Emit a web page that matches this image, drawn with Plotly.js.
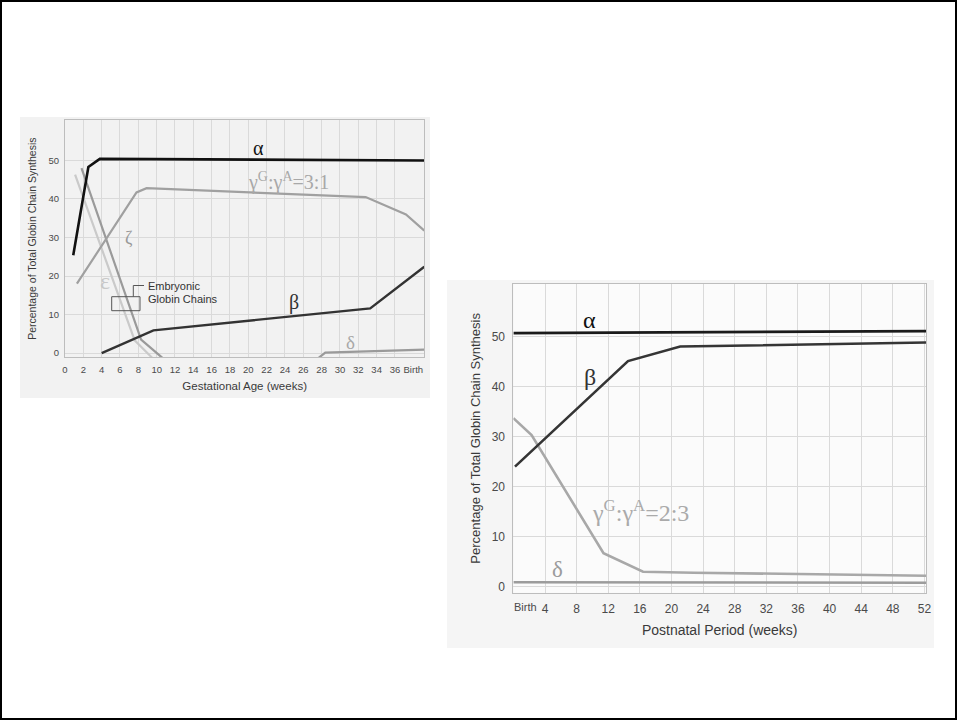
<!DOCTYPE html>
<html>
<head>
<meta charset="utf-8">
<script src="https://cdn.plot.ly/plotly-3.0.1.min.js"></script>
<style>html,body{margin:0;padding:0;background:#fff;}#chart{width:957px;height:720px;}</style>
</head>
<body>
<div id="chart"></div>
<script>
// ---------- Gestational (left) chart data ----------
const gestTickVals = [0,2,4,6,8,10,12,14,16,18,20,22,24,26,28,30,32,34,36,38];
const gestTickText = ['0','2','4','6','8','10','12','14','16','18','20','22','24','26','28','30','32','34','36','Birth'];
const gestGridVals = [0,2,4,6,8,10,12,14,16,18,20,22,24,26,28,30,32,34,36];
const pctTickVals = [0,10,20,30,40,50];

const gestAlphaX = [0.9, 2.55, 3.8, 39.2];
const gestAlphaY = [25.4, 48.3, 50.4, 50.0];
const gestGammaX = [1.3, 7.8, 8.9, 32.8, 37.2, 39.2];
const gestGammaY = [18.0, 41.7, 42.8, 40.5, 36.0, 31.8];
const gestEpsX = [1.1, 7.6, 9.5];
const gestEpsY = [46.3, 3.3, -1.2];
const gestZetaX = [1.8, 8.3, 10.6];
const gestZetaY = [48.0, 3.5, -1.2];
const gestBetaX = [4.0, 9.65, 33.3, 39.2];
const gestBetaY = [0.0, 5.9, 11.6, 22.4];
const gestDeltaX = [27.7, 28.4, 39.2];
const gestDeltaY = [-1.2, 0.1, 0.9];

// ---------- Postnatal (right) chart data ----------
const postTickVals = [4,8,12,16,20,24,28,32,36,40,44,48,52];
const postTickText = ['4','8','12','16','20','24','28','32','36','40','44','48','52'];
const postBirthLabel = 'Birth';

const postAlphaX = [0, 52.2];
const postAlphaY = [50.7, 51.1];
const postBetaX = [0.2, 14.5, 21.1, 52.2];
const postBetaY = [24.0, 45.1, 48.0, 48.8];
const postGammaX = [0, 2.3, 11.4, 16.4, 22.8, 52.2];
const postGammaY = [33.7, 30.3, 6.7, 3.0, 2.8, 2.2];
const postDeltaX = [0, 52.2];
const postDeltaY = [0.9, 0.8];

// ---------- helpers ----------
const W = 957, H = 720;
const px = x => x / W;
const py = y => 1 - y / H;
const SANS = 'Liberation Sans, Arial, sans-serif';
const SERIF = 'Liberation Serif, Times New Roman, serif';

function line(x, y, color, width, xa, ya) {
  return {x: x, y: y, type: 'scatter', mode: 'lines', xaxis: xa, yaxis: ya,
          line: {color: color, width: width, shape: 'linear'}, hoverinfo: 'skip', showlegend: false};
}

function label(x, y, text, family, size, color, xanchor) {
  return {xref: 'paper', yref: 'paper', x: px(x), y: py(y), text: text, showarrow: false,
          xanchor: xanchor || 'center', yanchor: 'middle', font: {family: family, size: size, color: color}};
}

const data = [
  line(gestEpsX, gestEpsY, '#cacaca', 2.2, 'x', 'y'),
  line(gestZetaX, gestZetaY, '#9a9a9a', 2.2, 'x', 'y'),
  line(gestGammaX, gestGammaY, '#a0a0a0', 2.2, 'x', 'y'),
  line(gestDeltaX, gestDeltaY, '#9a9a9a', 2.2, 'x', 'y'),
  line(gestBetaX, gestBetaY, '#333333', 2.4, 'x', 'y'),
  line(gestAlphaX, gestAlphaY, '#111111', 2.6, 'x', 'y'),

  line(postDeltaX, postDeltaY, '#9c9c9c', 2.6, 'x2', 'y2'),
  line(postGammaX, postGammaY, '#a8a8a8', 2.6, 'x2', 'y2'),
  line(postBetaX, postBetaY, '#353535', 2.6, 'x2', 'y2'),
  line(postAlphaX, postAlphaY, '#1a1a1a', 2.8, 'x2', 'y2')
];

const gridC = '#dadada';
const axLine = '#bdbdbd';

const layout = {
  width: W, height: H,
  margin: {l: 0, r: 0, t: 0, b: 0},
  paper_bgcolor: '#ffffff',
  plot_bgcolor: 'rgba(0,0,0,0)',
  showlegend: false,
  xaxis: {
    domain: [px(65), px(424.3)], anchor: 'y',
    range: [0, 39.2], tickmode: 'array', tickvals: gestTickVals, ticktext: gestTickText,
    showgrid: false, zeroline: false,
    minor: {tickmode: 'array', tickvals: gestGridVals, showgrid: true, gridcolor: gridC, gridwidth: 1, ticks: ''},
    showline: true, linecolor: axLine, linewidth: 1, mirror: true,
    ticks: 'outside', ticklen: 3, tickcolor: 'rgba(0,0,0,0)',
    tickfont: {family: SANS, size: 9.5, color: '#4a4a4a'},
    title: {text: 'Gestational Age (weeks)', font: {family: SANS, size: 11.5, color: '#3a3a3a'}, standoff: 8},
    automargin: false, fixedrange: true
  },
  yaxis: {
    domain: [py(357.3), py(120)], anchor: 'x',
    range: [-1.1, 60.5], tickmode: 'array', tickvals: pctTickVals,
    showgrid: true, gridcolor: gridC, gridwidth: 1, zeroline: false,
    showline: true, linecolor: axLine, linewidth: 1, mirror: true,
    ticks: 'outside', ticklen: 3, tickcolor: 'rgba(0,0,0,0)',
    tickfont: {family: SANS, size: 9.5, color: '#4a4a4a'},
    title: {text: 'Percentage of Total Globin Chain Synthesis', font: {family: SANS, size: 10.5, color: '#3a3a3a'}, standoff: 9},
    automargin: false, fixedrange: true
  },
  xaxis2: {
    domain: [px(513.4), px(926)], anchor: 'y2',
    range: [0, 52.2], tickmode: 'array', tickvals: postTickVals, ticktext: postTickText,
    showgrid: true, gridcolor: gridC, gridwidth: 1, zeroline: false,
    showline: true, linecolor: axLine, linewidth: 1, mirror: true,
    ticks: 'outside', ticklen: 5, tickcolor: 'rgba(0,0,0,0)',
    tickfont: {family: SANS, size: 12, color: '#4a4a4a'},
    title: {text: 'Postnatal Period (weeks)', font: {family: SANS, size: 14, color: '#3a3a3a'}, standoff: 10},
    automargin: false, fixedrange: true
  },
  yaxis2: {
    domain: [py(592.7), py(284)], anchor: 'x2',
    range: [-1.2, 60.5], tickmode: 'array', tickvals: pctTickVals,
    showgrid: true, gridcolor: gridC, gridwidth: 1, zeroline: false,
    showline: true, linecolor: axLine, linewidth: 1, mirror: true,
    ticks: 'outside', ticklen: 5, tickcolor: 'rgba(0,0,0,0)',
    tickfont: {family: SANS, size: 12, color: '#4a4a4a'},
    title: {text: 'Percentage of Total Globin Chain Synthesis', font: {family: SANS, size: 13, color: '#3a3a3a'}, standoff: 8},
    automargin: false, fixedrange: true
  },
  shapes: [
    // outer frame
    {type: 'rect', xref: 'paper', yref: 'paper', x0: px(1), x1: px(956), y0: py(1), y1: py(719),
     line: {color: '#000', width: 2}, fillcolor: 'rgba(0,0,0,0)', layer: 'above'},
    // panel backgrounds
    {type: 'rect', xref: 'paper', yref: 'paper', x0: px(20), x1: px(430), y0: py(398), y1: py(117),
     line: {width: 0}, fillcolor: '#f2f2f2', layer: 'below'},
    {type: 'rect', xref: 'paper', yref: 'paper', x0: px(447), x1: px(934), y0: py(648), y1: py(280),
     line: {width: 0}, fillcolor: '#f5f5f5', layer: 'below'},
    {type: 'rect', xref: 'paper', yref: 'paper', x0: px(513.4), x1: px(926), y0: py(592.7), y1: py(284),
     line: {width: 0}, fillcolor: '#fbfbfb', layer: 'below'},
    // embryonic bracket
    {type: 'rect', xref: 'paper', yref: 'paper', x0: px(111.7), x1: px(140), y0: py(310.7), y1: py(296.7),
     line: {color: '#555', width: 1}, fillcolor: 'rgba(0,0,0,0)', layer: 'above'},
    {type: 'path', xref: 'paper', yref: 'paper',
     path: 'M ' + px(133.3) + ' ' + py(296.7) + ' L ' + px(133.3) + ' ' + py(285.5) + ' L ' + px(144) + ' ' + py(285.5),
     line: {color: '#555', width: 1}, layer: 'above'}
  ],
  annotations: [
    label(258, 148, 'α', SERIF, 20, '#111'),
    label(288, 181, 'γ<sup>G</sup>:γ<sup>A</sup>=3:1', SERIF, 20, '#a8a8a8'),
    label(129, 238, 'ζ', SERIF, 18, '#9a9a9a'),
    label(105, 281, 'ε', SERIF, 24, '#c8c8c8'),
    label(146, 286, 'Embryonic', SANS, 11, '#333', 'left'),
    label(146, 299, 'Globin Chains', SANS, 11, '#333', 'left'),
    label(294, 302, 'β', SERIF, 20, '#333'),
    label(350, 342, 'δ', SERIF, 19, '#a8a8a8'),

    label(589, 320, 'α', SERIF, 24, '#111'),
    label(590, 377, 'β', SERIF, 24, '#333'),
    label(640, 511, 'γ<sup>G</sup>:γ<sup>A</sup>=2:3', SERIF, 24, '#aaaaaa'),
    label(557, 569, 'δ', SERIF, 23, '#9c9c9c'),
    // "Birth" tick label of the postnatal axis (left-aligned at week 0)
    {xref: 'x2', yref: 'paper', x: 0, y: py(607), xanchor: 'left', yanchor: 'middle', xshift: -1,
     text: postBirthLabel, showarrow: false, font: {family: SANS, size: 11, color: '#4a4a4a'}}
  ]
};

Plotly.newPlot('chart', data, layout, {staticPlot: true, displayModeBar: false});
</script>
</body>
</html>
